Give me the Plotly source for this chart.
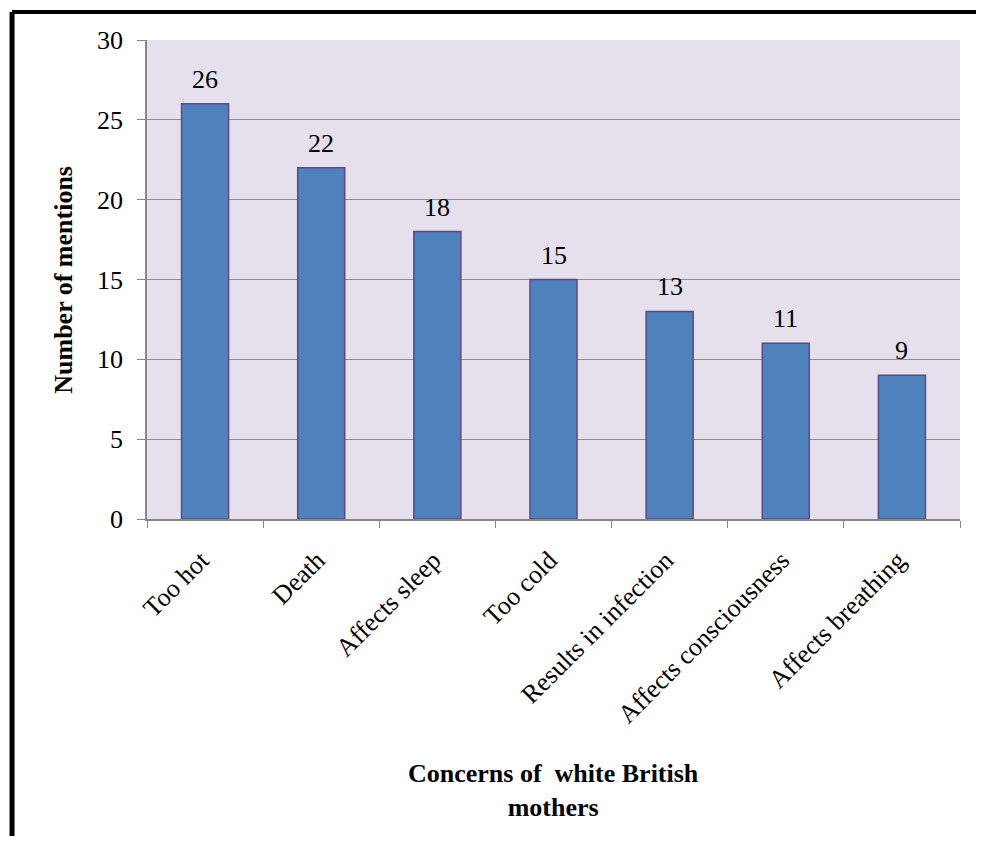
import plotly.graph_objects as go

categories = ["Too hot", "Death", "Affects sleep", "Too cold", "Results in infection",
              "Affects consciousness", "Affects breathing"]
mentions = [26, 22, 18, 15, 13, 11, 9]
y_ticks = [0, 5, 10, 15, 20, 25, 30]

FONT = "Liberation Serif, Times New Roman, serif"

fig = go.Figure()
fig.add_trace(go.Bar(
    x=categories, y=mentions,
    marker=dict(color="#4F81BD", line=dict(color="#5B4A86", width=1.5)),
    width=0.405,
    hoverinfo="skip",
))

for c, v in zip(categories, mentions):
    fig.add_annotation(x=c, y=v, text=str(v), showarrow=False, xref="x", yref="y",
                       yanchor="bottom", yshift=8, font=dict(family=FONT, size=26, color="black"))

fig.add_annotation(x=0.5, y=-0.566, xref="paper", yref="paper", showarrow=False,
                   xanchor="center", yanchor="middle",
                   text="<b>Concerns of  white British<br>mothers</b>",
                   font=dict(family=FONT, size=26, color="black"), align="center")
fig.add_annotation(x=-0.103, y=0.5, xref="paper", yref="paper", showarrow=False,
                   xanchor="center", yanchor="middle",
                   text="<b>Number of mentions</b>", textangle=-90,
                   font=dict(family=FONT, size=26, color="black"))

# outer border (only top and left visible)
fig.add_shape(type="line", xref="paper", yref="paper", x0=-0.166, x1=1.2, y0=1.0585, y1=1.0585,
              line=dict(color="black", width=4))
fig.add_shape(type="line", xref="paper", yref="paper", x0=-0.166, x1=-0.166, y0=1.0585, y1=-0.8,
              line=dict(color="black", width=5))

fig.update_layout(
    width=968, height=828,
    margin=dict(l=139, r=16, t=32, b=317),
    paper_bgcolor="white", plot_bgcolor="#E5E0EC",
    showlegend=False,
    font=dict(family=FONT, size=26, color="black"),
)
fig.update_xaxes(
    type="category", tickangle=-45, tickson="boundaries", ticks="outside", ticklen=7,
    tickcolor="#868686", showline=True, linecolor="#868686", linewidth=1.5,
    showgrid=False, tickfont=dict(family=FONT, size=26, color="black"),
    ticklabelstandoff=14, ticklabelshift=-4,
)
fig.update_yaxes(
    range=[0, 30], tickvals=y_ticks, ticks="outside", ticklen=8, tickcolor="#868686",
    showline=True, linecolor="#868686", linewidth=1.5,
    showgrid=True, gridcolor="#8C8C8C", gridwidth=1.3, zeroline=False,
    tickfont=dict(family=FONT, size=26, color="black"),
    ticklabelstandoff=9,
)

fig.write_html("out.html")
